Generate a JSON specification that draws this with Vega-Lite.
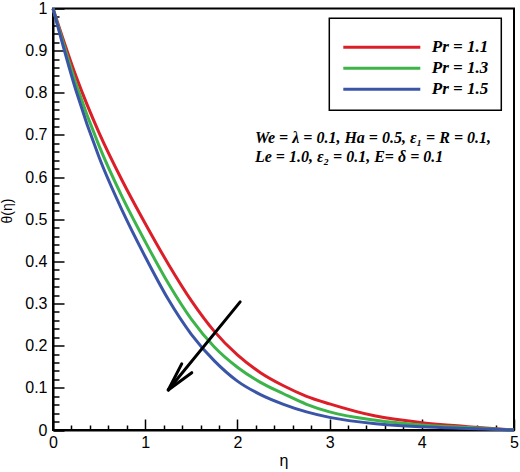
{
  "$schema": "https://vega.github.io/schema/vega-lite/v6.json",
  "autosize": {"type": "none"},
  "width": 461,
  "height": 421.5,
  "padding": {"left": 53, "top": 8.5, "right": 6, "bottom": 42},
  "config": {
    "view": {"stroke": "black", "strokeWidth": 2},
    "font": "Liberation Sans",
    "legend": {"strokeWidth": 1.5}
  },
  "datasets": {
    "curves": [
      {"eta": 0, "theta": 1, "Pr": "Pr = 1.1"},
      {"eta": 0.25, "theta": 0.839, "Pr": "Pr = 1.1"},
      {"eta": 0.5, "theta": 0.705, "Pr": "Pr = 1.1"},
      {"eta": 0.75, "theta": 0.592, "Pr": "Pr = 1.1"},
      {"eta": 1.0, "theta": 0.49, "Pr": "Pr = 1.1"},
      {"eta": 1.25, "theta": 0.394, "Pr": "Pr = 1.1"},
      {"eta": 1.5, "theta": 0.307, "Pr": "Pr = 1.1"},
      {"eta": 1.75, "theta": 0.234, "Pr": "Pr = 1.1"},
      {"eta": 2.0, "theta": 0.178, "Pr": "Pr = 1.1"},
      {"eta": 2.25, "theta": 0.136, "Pr": "Pr = 1.1"},
      {"eta": 2.5, "theta": 0.105, "Pr": "Pr = 1.1"},
      {"eta": 2.75, "theta": 0.080, "Pr": "Pr = 1.1"},
      {"eta": 3.0, "theta": 0.062, "Pr": "Pr = 1.1"},
      {"eta": 3.5, "theta": 0.033, "Pr": "Pr = 1.1"},
      {"eta": 4.0, "theta": 0.0175, "Pr": "Pr = 1.1"},
      {"eta": 4.5, "theta": 0.008, "Pr": "Pr = 1.1"},
      {"eta": 5.0, "theta": 0, "Pr": "Pr = 1.1"},
      {"eta": 0, "theta": 1, "Pr": "Pr = 1.3"},
      {"eta": 0.25, "theta": 0.821, "Pr": "Pr = 1.3"},
      {"eta": 0.5, "theta": 0.674, "Pr": "Pr = 1.3"},
      {"eta": 0.75, "theta": 0.553, "Pr": "Pr = 1.3"},
      {"eta": 1.0, "theta": 0.447, "Pr": "Pr = 1.3"},
      {"eta": 1.25, "theta": 0.348, "Pr": "Pr = 1.3"},
      {"eta": 1.5, "theta": 0.263, "Pr": "Pr = 1.3"},
      {"eta": 1.75, "theta": 0.197, "Pr": "Pr = 1.3"},
      {"eta": 2.0, "theta": 0.149, "Pr": "Pr = 1.3"},
      {"eta": 2.25, "theta": 0.113, "Pr": "Pr = 1.3"},
      {"eta": 2.5, "theta": 0.086, "Pr": "Pr = 1.3"},
      {"eta": 2.75, "theta": 0.061, "Pr": "Pr = 1.3"},
      {"eta": 3.0, "theta": 0.043, "Pr": "Pr = 1.3"},
      {"eta": 3.5, "theta": 0.023, "Pr": "Pr = 1.3"},
      {"eta": 4.0, "theta": 0.012, "Pr": "Pr = 1.3"},
      {"eta": 4.5, "theta": 0.0058, "Pr": "Pr = 1.3"},
      {"eta": 5.0, "theta": 0, "Pr": "Pr = 1.3"},
      {"eta": 0, "theta": 1, "Pr": "Pr = 1.5"},
      {"eta": 0.25, "theta": 0.805, "Pr": "Pr = 1.5"},
      {"eta": 0.5, "theta": 0.647, "Pr": "Pr = 1.5"},
      {"eta": 0.75, "theta": 0.521, "Pr": "Pr = 1.5"},
      {"eta": 1.0, "theta": 0.411, "Pr": "Pr = 1.5"},
      {"eta": 1.25, "theta": 0.31, "Pr": "Pr = 1.5"},
      {"eta": 1.5, "theta": 0.227, "Pr": "Pr = 1.5"},
      {"eta": 1.75, "theta": 0.164, "Pr": "Pr = 1.5"},
      {"eta": 2.0, "theta": 0.116, "Pr": "Pr = 1.5"},
      {"eta": 2.25, "theta": 0.084, "Pr": "Pr = 1.5"},
      {"eta": 2.5, "theta": 0.061, "Pr": "Pr = 1.5"},
      {"eta": 2.75, "theta": 0.043, "Pr": "Pr = 1.5"},
      {"eta": 3.0, "theta": 0.030, "Pr": "Pr = 1.5"},
      {"eta": 3.5, "theta": 0.015, "Pr": "Pr = 1.5"},
      {"eta": 4.0, "theta": 0.0075, "Pr": "Pr = 1.5"},
      {"eta": 4.5, "theta": 0.0035, "Pr": "Pr = 1.5"},
      {"eta": 5.0, "theta": 0, "Pr": "Pr = 1.5"}
    ],
    "arrow": [
      {"x1": 2.03, "y1": 0.304, "x2": 1.25, "y2": 0.095},
      {"x1": 1.25, "y1": 0.095, "x2": 1.396, "y2": 0.157},
      {"x1": 1.25, "y1": 0.095, "x2": 1.505, "y2": 0.136}
    ],
    "notes": [
      {"x": 2.19, "y": 0.681, "label": "We = λ = 0.1, Ha = 0.5, ε₁ = R = 0.1,"},
      {"x": 2.19, "y": 0.637, "label": "Le = 1.0, ε₂ = 0.1,  E= δ = 0.1"}
    ]
  },
  "layer": [
    {
      "data": {"name": "curves"},
      "mark": {"type": "line", "interpolate": "monotone", "strokeWidth": 3},
      "encoding": {
        "x": {
          "field": "eta", "type": "quantitative",
          "scale": {"domain": [0, 5], "nice": false, "zero": false},
          "axis": {
            "title": "η", "titleFontSize": 16, "titleFontWeight": "normal", "titleColor": "black",
            "titleBaseline": "alphabetic", "titleY": 35,
            "values": [0,0.2,0.4,0.6,0.8,1,1.2,1.4,1.6,1.8,2,2.2,2.4,2.6,2.8,3,3.2,3.4,3.6,3.8,4,4.2,4.4,4.6,4.8,5],
            "tickCount": 100,
            "labelExpr": "abs(datum.value - round(datum.value)) < 1e-6 ? format(datum.value, '~g') : ''",
            "labelFontSize": 16, "labelColor": "black", "labelOverlap": false, "labelFlush": false,
            "labelPadding": 15,
            "tickSize": {"condition": {"test": "abs(datum.value - round(datum.value)) < 1e-6", "value": -11}, "value": -5},
            "tickColor": "black", "tickWidth": 1.5,
            "domainColor": "black", "domainWidth": 2, "grid": false
          }
        },
        "y": {
          "field": "theta", "type": "quantitative",
          "scale": {"domain": [0, 1], "nice": false},
          "axis": {
            "title": "θ(η)", "titleFontSize": 14, "titleFontWeight": "normal", "titleColor": "black",
            "titleX": -46, "titleY": 202, "titleBaseline": "middle", "titleAlign": "center", "titleAngle": -90,
            "values": [0,0.02,0.04,0.06,0.08,0.1,0.12,0.14,0.16,0.18,0.2,0.22,0.24,0.26,0.28,0.3,0.32,0.34,0.36,0.38,0.4,0.42,0.44,0.46,0.48,0.5,0.52,0.54,0.56,0.58,0.6,0.62,0.64,0.66,0.68,0.7,0.72,0.74,0.76,0.78,0.8,0.82,0.84,0.86,0.88,0.9,0.92,0.94,0.96,0.98,1],
            "tickCount": 100,
            "labelExpr": "abs(datum.value*10 - round(datum.value*10)) < 1e-6 ? format(datum.value, '.1~f') : ''",
            "labelFontSize": 16, "labelColor": "black", "labelOverlap": false, "labelFlush": false,
            "labelPadding": 17,
            "tickSize": {"condition": {"test": "abs(datum.value*10 - round(datum.value*10)) < 1e-6", "value": -11}, "value": -6},
            "tickColor": "black", "tickWidth": 1.5,
            "domainColor": "black", "domainWidth": 2, "grid": false
          }
        },
        "color": {
          "field": "Pr", "type": "nominal",
          "scale": {"domain": ["Pr = 1.1", "Pr = 1.3", "Pr = 1.5"], "range": ["#dc1e28", "#3cb44a", "#3a55a8"]},
          "legend": {
            "title": " ", "titleFontSize": 4, "titlePadding": 4,
            "orient": "none", "legendX": 276.3, "legendY": 9.8,
            "symbolType": "stroke", "symbolSize": 5929, "symbolStrokeWidth": 3,
            "clipHeight": 17,
            "labelFont": "Liberation Serif", "labelFontSize": 17, "labelFontStyle": "italic", "labelFontWeight": "bold",
            "labelColor": "black", "labelOffset": 10,
            "strokeColor": "black", "padding": 12.5, "rowPadding": 3
          }
        }
      }
    },
    {
      "data": {"name": "arrow"},
      "mark": {"type": "rule", "color": "black", "strokeWidth": 3, "strokeCap": "round"},
      "encoding": {
        "x": {"field": "x1", "type": "quantitative"},
        "y": {"field": "y1", "type": "quantitative"},
        "x2": {"field": "x2"},
        "y2": {"field": "y2"}
      }
    },
    {
      "data": {"name": "notes"},
      "mark": {"type": "text", "align": "left", "baseline": "alphabetic", "font": "Liberation Serif", "fontSize": 16, "fontStyle": "italic", "fontWeight": "bold", "color": "black"},
      "encoding": {
        "x": {"field": "x", "type": "quantitative"},
        "y": {"field": "y", "type": "quantitative"},
        "text": {"field": "label"}
      }
    }
  ]
}
